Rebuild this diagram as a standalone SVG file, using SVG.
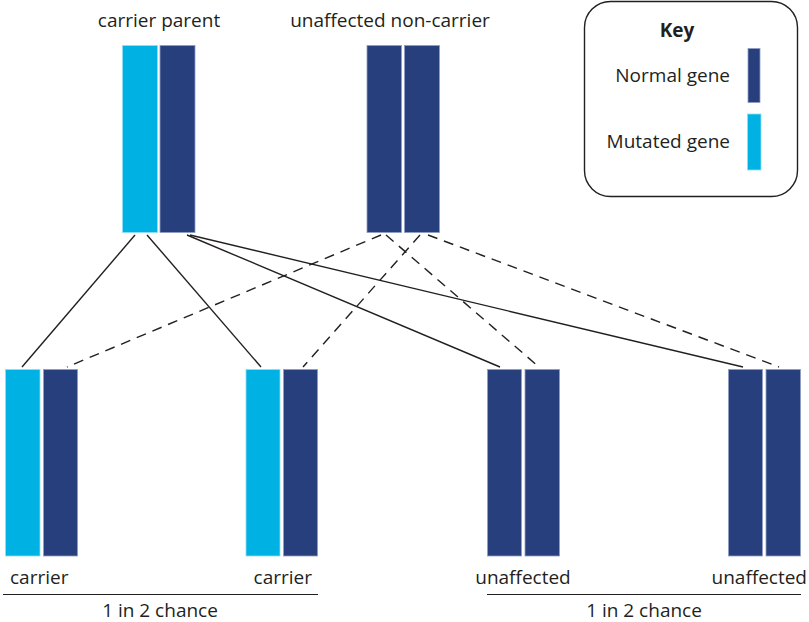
<svg xmlns="http://www.w3.org/2000/svg" width="809" height="622" viewBox="0 0 809 622">
<style>
.n{fill:#283f7e;stroke:#8e9dc4;stroke-width:0.8}
.m{fill:#00b2e3;stroke:#8fdcf3;stroke-width:0.8}
.t{font-family:"Open Sans","Liberation Sans",sans-serif;font-size:19px;fill:#231f20}
.s{stroke:#231f20;stroke-width:1.4;fill:none}
.d{stroke:#231f20;stroke-width:1.4;fill:none;stroke-dasharray:10 7}
</style>
<g id="connectors">
<line class="s" x1="135" y1="235" x2="22" y2="367"/>
<line class="s" x1="147" y1="235" x2="261" y2="367"/>
<line class="s" x1="187" y1="235" x2="500" y2="367"/>
<line class="s" x1="190" y1="235" x2="743" y2="367"/>
<line class="d" x1="381" y1="235" x2="67" y2="367"/>
<line class="d" x1="386" y1="235" x2="539" y2="367"/>
<line class="d" x1="420" y1="235" x2="303" y2="367"/>
<line class="d" x1="428" y1="235" x2="779" y2="367"/>
</g>
<g id="carrier-parent">
<text class="t" x="159" y="27" text-anchor="middle">carrier parent</text>
<rect class="m" x="122.5" y="45.5" width="35" height="187"/>
<rect class="n" x="160" y="45.5" width="35" height="187"/>
</g>
<g id="non-carrier-parent">
<text class="t" x="390" y="27" text-anchor="middle">unaffected non-carrier</text>
<rect class="n" x="367" y="45.5" width="34.5" height="187"/>
<rect class="n" x="404.5" y="45.5" width="35" height="187"/>
</g>
<g id="child1">
<rect class="m" x="5.5" y="369.5" width="34.5" height="186.5"/>
<rect class="n" x="43.5" y="369.5" width="34" height="186.5"/>
<text class="t" x="10" y="584">carrier</text>
</g>
<g id="child2">
<rect class="m" x="246" y="369.5" width="34" height="186.5"/>
<rect class="n" x="283.5" y="369.5" width="34" height="186.5"/>
<text class="t" x="312" y="584" text-anchor="end">carrier</text>
</g>
<g id="child3">
<rect class="n" x="487.5" y="369.5" width="34" height="186.5"/>
<rect class="n" x="525" y="369.5" width="34.5" height="186.5"/>
<text class="t" x="523" y="584" text-anchor="middle">unaffected</text>
</g>
<g id="child4">
<rect class="n" x="728.5" y="369.5" width="34" height="186.5"/>
<rect class="n" x="766" y="369.5" width="34.5" height="186.5"/>
<text class="t" x="807" y="584" text-anchor="end">unaffected</text>
</g>
<g id="chance-left">
<line x1="3" y1="594.5" x2="318" y2="594.5" stroke="#231f20" stroke-width="1.2"/>
<text class="t" x="160" y="617" text-anchor="middle">1 in 2 chance</text>
</g>
<g id="chance-right">
<line x1="487" y1="594.5" x2="801" y2="594.5" stroke="#231f20" stroke-width="1.2"/>
<text class="t" x="644" y="617" text-anchor="middle">1 in 2 chance</text>
</g>
<g id="key">
<rect x="584.5" y="1.5" width="213" height="195" rx="26" fill="#fff" stroke="#231f20" stroke-width="1.4"/>
<text class="t" x="677" y="37" text-anchor="middle" font-weight="bold">Key</text>
<text class="t" x="730" y="82" text-anchor="end" font-size="19.5">Normal gene</text>
<rect class="n" x="748" y="48.5" width="12" height="54"/>
<text class="t" x="730" y="148" text-anchor="end" font-size="19.5">Mutated gene</text>
<rect class="m" x="747.5" y="114" width="13.5" height="56"/>
</g>
</svg>
